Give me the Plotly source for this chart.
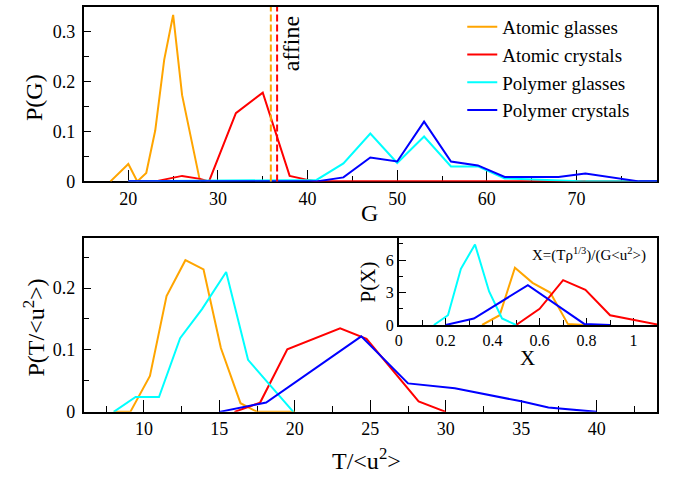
import plotly.graph_objects as go

# ---------------- data ----------------
series_names = ["Atomic glasses", "Atomic crystals", "Polymer glasses", "Polymer crystals"]
series_colors = ["#FFA500", "#FF0000", "#00FFFF", "#0000FF"]

# Top panel: P(G)
ag_G = [18, 20, 21, 22, 23, 24, 25, 26, 28]
ag_PG = [0, 0.035, 0, 0.017, 0.102, 0.244, 0.334, 0.173, 0]
ac_G = [20, 23, 26, 28, 29, 32, 35, 38, 40, 41, 79]
ac_PG = [0, 0, 0.011, 0.005, 0, 0.137, 0.178, 0.011, 0.003, 0, 0]
pg_G = [20, 41, 44, 47, 50, 53, 56, 59, 62, 65, 68, 71, 79]
pg_PG = [0, 0.003, 0.036, 0.096, 0.037, 0.090, 0.030, 0.030, 0.006, 0.004, 0.001, 0, 0]
pc_G = [20, 41, 44, 47, 50, 53, 56, 59, 62, 65, 68, 71, 74, 77, 79]
pc_PG = [0, 0, 0.008, 0.048, 0.040, 0.120, 0.040, 0.032, 0.009, 0.009, 0.009, 0.016, 0.008, 0, 0]
affine_G = [35.9, 36.6]  # orange (atomic glasses), red (atomic crystals)

# Bottom panel: P(T/<u^2>)
ag_T = [8.0, 9.1, 10.4, 11.5, 12.75, 13.95, 15.1, 16.4, 17.5, 20.0]
ag_PT = [0, 0, 0.058, 0.187, 0.245, 0.230, 0.103, 0.014, 0, 0]
ac_T = [16.0, 17.7, 19.5, 23.0, 24.75, 28.2, 30.0]
ac_PT = [0, 0.015, 0.101, 0.135, 0.118, 0.017, 0]
pg_T = [8.0, 9.45, 11.0, 12.4, 13.85, 15.45, 16.9, 19.9]
pg_PT = [0, 0.024, 0.024, 0.119, 0.166, 0.226, 0.084, 0]
pc_T = [15.0, 18.1, 24.4, 27.5, 30.6, 35.0, 36.8, 40.0]
pc_PT = [0, 0.015, 0.122, 0.046, 0.038, 0.017, 0.007, 0]

# Inset: P(X)
ag_X = [0.355, 0.43, 0.495, 0.57, 0.645, 0.72, 0.79]
ag_PX = [0, 0.9, 5.3, 3.9, 3.0, 0.1, 0]
ac_X = [0.5, 0.6, 0.7, 0.795, 0.9, 1.0, 1.1]
ac_PX = [0, 1.5, 4.15, 3.25, 0.9, 0.45, 0.05]
pg_X = [0.15, 0.21, 0.265, 0.325, 0.385, 0.44, 0.5]
pg_PX = [0, 0.9, 5.2, 7.45, 3.1, 0.6, 0]
pc_X = [0.2, 0.32, 0.55, 0.79, 0.9]
pc_PX = [0, 0.6, 3.68, 0.1, 0]

# ---------------- figure ----------------
W, H = 673, 477          # target picture size (positions below are given in these pixels)
FIG_H = 488              # rendered figure height (picture is fitted to the window)
FONT = "Liberation Serif"

def px_x(p):
    return p / W

def px_y(p):
    return 1 - p / H

fig = go.Figure()

top = [(ag_G, ag_PG), (ac_G, ac_PG), (pg_G, pg_PG), (pc_G, pc_PG)]
bot = [(ag_T, ag_PT), (ac_T, ac_PT), (pg_T, pg_PT), (pc_T, pc_PT)]
ins = [(ag_X, ag_PX), (ac_X, ac_PX), (pg_X, pg_PX), (pc_X, pc_PX)]

for i, (x, y) in enumerate(top):
    fig.add_trace(go.Scatter(x=x, y=y, mode="lines", name=series_names[i],
                             line=dict(color=series_colors[i], width=2),
                             xaxis="x", yaxis="y", showlegend=True))
for i, (x, y) in enumerate(bot):
    fig.add_trace(go.Scatter(x=x, y=y, mode="lines", name=series_names[i],
                             line=dict(color=series_colors[i], width=2),
                             xaxis="x2", yaxis="y2", showlegend=False))
for i, (x, y) in enumerate(ins):
    fig.add_trace(go.Scatter(x=x, y=y, mode="lines", name=series_names[i],
                             line=dict(color=series_colors[i], width=2),
                             xaxis="x3", yaxis="y3", showlegend=False))

for g, c in zip(affine_G, series_colors[:2]):
    fig.add_shape(type="line", xref="x", yref="y domain", x0=g, x1=g, y0=0, y1=1,
                  line=dict(color=c, width=2, dash="7px,3px"))

def axis(domain, rng, dtick, mdtick, anchor, tickfont=18, ticklen=12, mticklen=6, standoff=0):
    return dict(domain=domain, range=rng, dtick=dtick, tick0=0, anchor=anchor,
                showline=True, linecolor="black", linewidth=1.5, mirror=True,
                ticks="inside", ticklen=ticklen, tickwidth=1, tickcolor="black",
                minor=dict(dtick=mdtick, ticks="inside", ticklen=mticklen, tickcolor="black", tickwidth=1),
                showgrid=False, zeroline=False, layer="below traces",
                tickfont=dict(family=FONT, size=tickfont, color="black"),
                ticklabelstandoff=standoff,
                fixedrange=True)

xd = [px_x(80), px_x(657)]
fig.update_layout(
    width=W, height=FIG_H,
    margin=dict(l=0, r=0, t=0, b=0),
    paper_bgcolor="white", plot_bgcolor="white",
    font=dict(family=FONT, color="black"),
    xaxis=axis(xd, [15, 79], 10, 5, "y"),
    yaxis=axis([px_y(181), px_y(7)], [0, 0.35], 0.1, 0.05, "x", ticklen=8, mticklen=6, standoff=3),
    xaxis2=axis(xd, [6, 44], 5, 2.5, "y2"),
    yaxis2=axis([px_y(411), px_y(238)], [0, 0.28], 0.1, 0.05, "x2", ticklen=8, mticklen=6, standoff=3),
    xaxis3=axis([px_x(397), px_x(657)], [0, 1.1], 0.2, 0.1, "y3", tickfont=16, ticklen=7, mticklen=5),
    yaxis3=axis([px_y(324.3), px_y(238)], [0, 8], 3, 1.5, "x3", tickfont=16, ticklen=8, mticklen=5),
    legend=dict(x=px_x(461), y=px_y(8), xanchor="left", yanchor="top",
                bgcolor="rgba(0,0,0,0)", font=dict(family=FONT, size=19, color="black"),
                tracegroupgap=0),
    showlegend=True,
)

def ann(text, x, y, size, angle=0):
    fig.add_annotation(text=text, x=px_x(x), y=px_y(y), xref="paper", yref="paper",
                       showarrow=False, textangle=angle, xanchor="center", yanchor="middle",
                       font=dict(family=FONT, size=size, color="black"))

ann("P(G)", 30, 97, 24, -90)
ann("G", 368, 213, 24)
ann("P(T/&lt;u<sup>2</sup>&gt;)", 30, 327, 24, -90)
ann("T/&lt;u<sup>2</sup>&gt;", 365, 458, 24)
ann("P(X)", 366, 281, 21, -90)
ann("X", 527, 357, 21)
ann("X=(Tρ<sup>1/3</sup>)/(G&lt;u<sup>2</sup>&gt;)", 588, 254, 15)
ann("affine", 289, 43, 24, -90)

page_fix = "document.documentElement.style.margin='0';document.body.style.margin='0';"
fig.write_html("out.html", config={"displayModeBar": False}, post_script=page_fix)
